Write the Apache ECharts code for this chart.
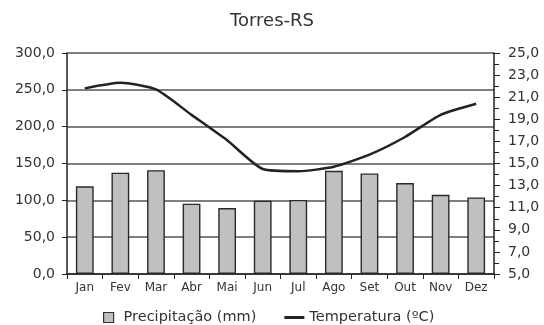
<!DOCTYPE html>
<html>
<head>
<meta charset="utf-8">
<style>
  html, body { margin: 0; padding: 0; background: #fff; }
  #chart { width: 544px; height: 325px; }
</style>
<script src="https://cdn.jsdelivr.net/npm/echarts@6/dist/echarts.min.js"></script>
</head>
<body>
<div id="chart"></div>
<script>
// Monthly climate normals for Torres-RS
const months = ['Jan', 'Fev', 'Mar', 'Abr', 'Mai', 'Jun', 'Jul', 'Ago', 'Set', 'Out', 'Nov', 'Dez'];
const precipitation = [119, 137.5, 141, 95.5, 89.5, 99.5, 100.5, 140, 136.5, 123.5, 107.5, 104];
const temperature = [21.8, 22.3, 21.7, 19.4, 17.1, 14.5, 14.3, 14.7, 15.8, 17.4, 19.4, 20.4];

// Values shown with one decimal and a decimal comma
const fmt1 = v => v.toFixed(1).replace('.', ',');
const font = 'DejaVu Sans, Verdana, sans-serif';

const chart = echarts.init(document.getElementById('chart'));
chart.setOption({
  animation: false,
  backgroundColor: '#fff',
  title: {
    text: 'Torres-RS',
    left: 'center',
    top: 7,
    textStyle: { fontFamily: font, fontSize: 18, fontWeight: 'normal', color: '#333' }
  },
  legend: {
    bottom: -5,
    left: 98,
    itemGap: 28,
    itemWidth: 20,
    itemHeight: 10,
    textStyle: { fontFamily: font, fontSize: 14.5, color: '#333' },
    data: [
      {
        name: 'Precipitação (mm)',
        icon: 'path://M0,0H10V10H0Z',
        itemStyle: { color: '#c0c0c0', borderColor: '#333', borderWidth: 1.2 }
      },
      {
        name: 'Temperatura (ºC)',
        icon: 'path://M0,0H20V3H0Z',
        itemStyle: { color: '#222' }
      }
    ]
  },
  grid: { left: 67, right: 50, top: 53, bottom: 51 },
  xAxis: {
    type: 'category',
    data: months,
    boundaryGap: true,
    axisLine: { lineStyle: { color: '#222', width: 1.5 } },
    axisTick: { show: true, length: 5, lineStyle: { color: '#222' } },
    axisLabel: { fontFamily: font, fontSize: 12, color: '#333', margin: 8 }
  },
  yAxis: [
    {
      type: 'value',
      min: 0, max: 300, interval: 50,
      axisLine: { show: true, lineStyle: { color: '#222', width: 1.5 } },
      axisTick: { show: true, length: 5, lineStyle: { color: '#222' } },
      axisLabel: { fontFamily: font, fontSize: 14, color: '#333', margin: 12, formatter: fmt1 },
      splitLine: { show: true, lineStyle: { color: '#555', width: 1.5 } }
    },
    {
      type: 'value',
      position: 'right',
      min: 5, max: 25, interval: 2,
      axisLine: { show: true, lineStyle: { color: '#222', width: 1.5 } },
      axisTick: { show: true, length: 6, lineStyle: { color: '#222' } },
      minorTick: { show: true, splitNumber: 2, length: 5, lineStyle: { color: '#222' } },
      axisLabel: { fontFamily: font, fontSize: 14, color: '#333', margin: 14, formatter: fmt1 },
      splitLine: { show: false }
    }
  ],
  series: [
    {
      name: 'Precipitação (mm)',
      type: 'bar',
      yAxisIndex: 0,
      data: precipitation,
      barWidth: '50%',
      itemStyle: { color: '#c0c0c0', borderColor: '#2a2a2a', borderWidth: 1.4 }
    },
    {
      name: 'Temperatura (ºC)',
      type: 'line',
      yAxisIndex: 1,
      data: temperature,
      smooth: 0.2,
      symbol: 'none',
      lineStyle: { color: '#222', width: 2.5 },
      itemStyle: { color: '#222' }
    }
  ]
});
</script>
</body>
</html>
